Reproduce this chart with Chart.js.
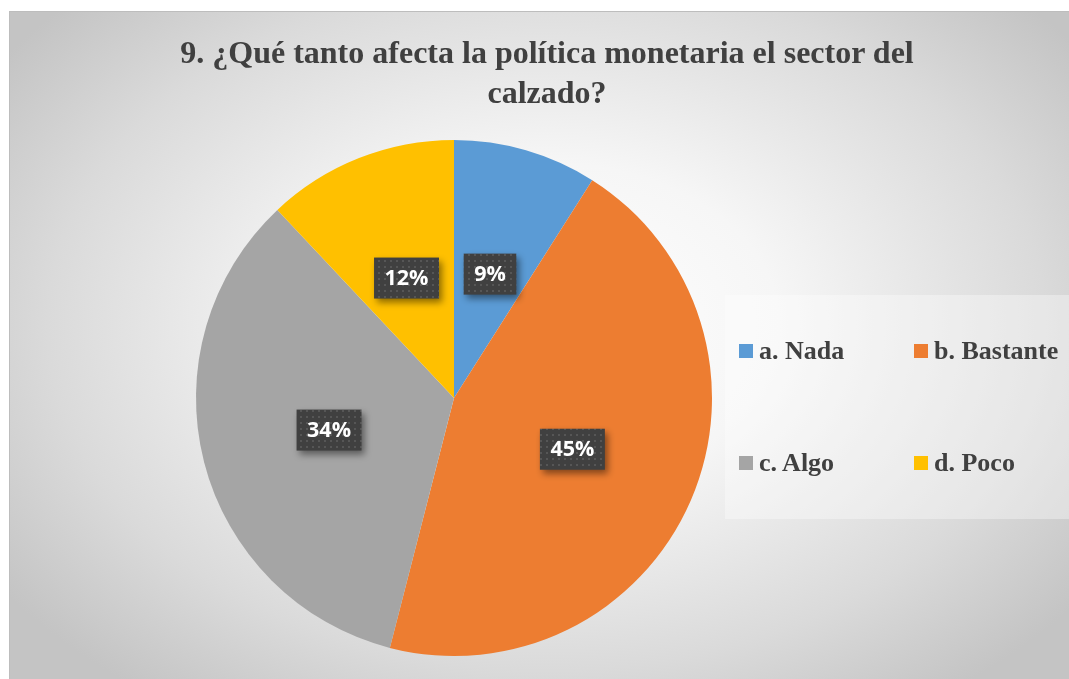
<!DOCTYPE html>
<html>
<head>
<meta charset="utf-8">
<script src="https://cdn.jsdelivr.net/npm/chart.js@4"></script>
<style>
  html, body { margin: 0; padding: 0; background: #ffffff; overflow: hidden; }
  body { width: 1069px; height: 679px; position: relative; }
  #frame {
    position: absolute; left: 9px; top: 11px; width: 1074px; height: 680px;
    border-top: 1px solid #bdbdbd; border-left: 1px solid #bdbdbd;
    box-sizing: border-box;
    background: radial-gradient(ellipse 62% 68% at 50% 46%, #ffffff 0%, #f6f6f6 35%, #dadada 75%, #c4c4c4 100%);
  }
  #chartBox { position: absolute; left: 0; top: 0; width: 1074px; height: 680px; }
  #title {
    position: absolute; left: 0; top: 20px; width: 1074px; text-align: center;
    font: bold 32px "Liberation Serif", "Times New Roman", serif; color: #404040; line-height: 40px;
  }
  #legend {
    position: absolute; left: 715px; top: 283px; width: 360px; height: 224px;
    background: rgba(255, 255, 255, 0.35);
  }
  .item {
    position: absolute; font: bold 26px "Liberation Serif", "Times New Roman", serif; color: #404040;
    line-height: 30px; white-space: nowrap;
  }
  .item span.box { display: inline-block; width: 14px; height: 14px; margin-right: 6px; vertical-align: 1px; }
</style>
</head>
<body>
<div id="frame">
  <div id="chartBox"><canvas id="pieChart"></canvas></div>
  <div id="title">9. ¿Qué tanto afecta la política monetaria el sector del<br>calzado?</div>
  <div id="legend"></div>
</div>
<script>
// Data
const categories = ['a. Nada', 'b. Bastante', 'c. Algo', 'd. Poco'];
const shares = [9, 45, 34, 12];
const sliceColors = ['#5B9BD5', '#ED7D31', '#A5A5A5', '#FFC000'];

// Legend (2 x 2 grid)
const legendEl = document.getElementById('legend');
categories.forEach((name, i) => {
    const div = document.createElement('div');
    div.className = 'item';
    div.style.left = (i % 2 === 0 ? 14 : 189) + 'px';
    div.style.top = (i < 2 ? 41 : 153) + 'px';
    div.innerHTML = `<span class="box" style="background:${sliceColors[i]}"></span>${name}`;
    legendEl.appendChild(div);
});

// Dotted fill for the label boxes
const makePattern = (ctx) => {
    const p = document.createElement('canvas');
    p.width = 6; p.height = 6;
    const pc = p.getContext('2d');
    pc.fillStyle = '#404040';
    pc.fillRect(0, 0, 6, 6);
    pc.fillStyle = '#565656';
    pc.fillRect(2, 2, 2, 2);
    return ctx.createPattern(p, 'repeat');
};

const boxLabels = {
    id: 'boxLabels',
    afterDatasetsDraw(chart) {
        const ctx = chart.ctx;
        const pattern = makePattern(ctx);
        const meta = chart.getDatasetMeta(0);
        ctx.save();
        ctx.font = 'bold 21.5px "Open Sans", sans-serif';
        meta.data.forEach((arc, i) => {
            const pos = arc.tooltipPosition();
            const text = shares[i] + '%';
            const w = ctx.measureText(text).width + 21;
            const h = 41;
            ctx.save();
            ctx.shadowColor = 'rgba(0,0,0,0.45)';
            ctx.shadowBlur = 7;
            ctx.shadowOffsetX = 3;
            ctx.shadowOffsetY = 4;
            ctx.fillStyle = pattern;
            ctx.fillRect(pos.x - w / 2, pos.y - h / 2, w, h);
            ctx.restore();
            ctx.fillStyle = '#ffffff';
            ctx.textAlign = 'center';
            ctx.textBaseline = 'middle';
            ctx.fillText(text, pos.x, pos.y + 1);
        });
        ctx.restore();
    }
};

new Chart(document.getElementById('pieChart'), {
    type: 'pie',
    data: {
        labels: categories,
        datasets: [{
            data: shares,
            backgroundColor: sliceColors,
            borderWidth: 0
        }]
    },
    options: {
        responsive: true,
        maintainAspectRatio: false,
        animation: false,
        layout: { padding: { left: 186, right: 372, top: 128, bottom: 36 } },
        plugins: {
            legend: { display: false },
            tooltip: { enabled: false },
            title: { display: false }
        }
    },
    plugins: [boxLabels]
});
</script>
</body>
</html>
